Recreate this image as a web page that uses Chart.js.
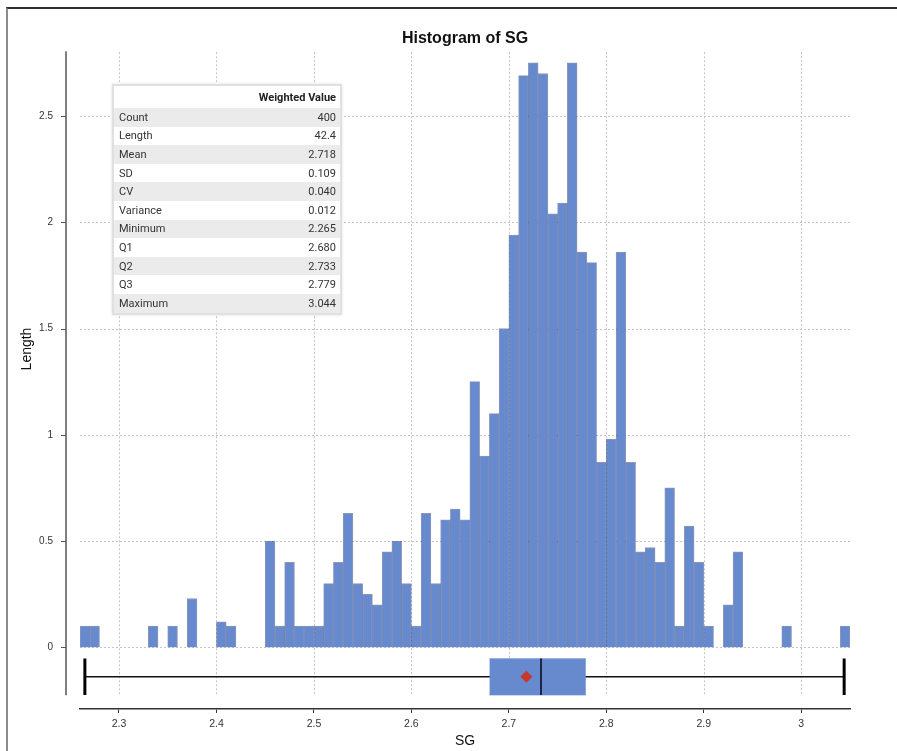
<!DOCTYPE html>
<html>
<head>
<meta charset="utf-8">
<title>Histogram of SG</title>
<script src="https://cdn.jsdelivr.net/npm/chart.js@4/dist/chart.umd.min.js"></script>
<style>
  html, body { margin: 0; padding: 0; background: #fff; }
  #wrap { position: relative; width: 897px; height: 751px; overflow: hidden; }
  #frame { position: absolute; left: 6px; top: 7px; right: -10px; bottom: -10px;
           border-top: 2px solid #2e2e2e; border-left: 2px solid #8c8c8c; }
  #chart { position: absolute; left: 0; top: 0; }
  #stats { position: absolute; left: 112px; top: 84px; width: 226px; background: #fff;
           border: 2px solid #e0e0e0; box-shadow: 0 0 3px rgba(0,0,0,0.12); }
  #stats table { width: 100%; border-collapse: collapse; font-family: Roboto, "Noto Sans", sans-serif;
                 font-size: 11px; color: #333; }
  #stats th { height: 22px; padding: 0 4px; text-align: right; font-weight: bold; color: #222; }
  #stats td { height: 18.6px; padding: 0 4px 0 5px; }
  #stats td.v { text-align: right; }
  #stats tr.shade td { background: #ebebeb; }
</style>
</head>
<body>
<div id="wrap">
  <div id="frame"></div>
  <canvas id="chart" width="897" height="751"></canvas>
  <div id="stats"><table id="statsTable"></table></div>
</div>
<script>
// histogram bins (left edge of each 0.01 wide bin) and the summed length per bin
const BIN_LEFT = [
  2.26, 2.27, 2.28, 2.29, 2.30, 2.31, 2.32, 2.33, 2.34, 2.35,
  2.36, 2.37, 2.38, 2.39, 2.40, 2.41, 2.42, 2.43, 2.44, 2.45,
  2.46, 2.47, 2.48, 2.49, 2.50, 2.51, 2.52, 2.53, 2.54, 2.55,
  2.56, 2.57, 2.58, 2.59, 2.60, 2.61, 2.62, 2.63, 2.64, 2.65,
  2.66, 2.67, 2.68, 2.69, 2.70, 2.71, 2.72, 2.73, 2.74, 2.75,
  2.76, 2.77, 2.78, 2.79, 2.80, 2.81, 2.82, 2.83, 2.84, 2.85,
  2.86, 2.87, 2.88, 2.89, 2.90, 2.91, 2.92, 2.93, 2.94, 2.95,
  2.96, 2.97, 2.98, 2.99, 3.00, 3.01, 3.02, 3.03, 3.04
];
const BIN_WIDTH = 0.01;
const LENGTHS = [
  0.1, 0.1, 0, 0, 0, 0, 0, 0.1, 0, 0.1,
  0, 0.23, 0, 0, 0.12, 0.1, 0, 0, 0, 0.5,
  0.1, 0.4, 0.1, 0.1, 0.1, 0.3, 0.4, 0.63, 0.3, 0.25,
  0.2, 0.45, 0.5, 0.3, 0.1, 0.63, 0.3, 0.6, 0.65, 0.6,
  1.25, 0.9, 1.1, 1.5, 1.94, 2.69, 2.75, 2.7, 2.04, 2.09,
  2.75, 1.86, 1.81, 0.87, 0.98, 1.86, 0.87, 0.45, 0.47, 0.4,
  0.75, 0.1, 0.57, 0.4, 0.1, 0, 0.2, 0.45, 0, 0,
  0, 0, 0.1, 0, 0, 0, 0, 0, 0.1
];

// summary table
const STAT_NAMES = ['Count', 'Length', 'Mean', 'SD', 'CV', 'Variance', 'Minimum', 'Q1', 'Q2', 'Q3', 'Maximum'];
const STAT_VALUES = ['400', '42.4', '2.718', '0.109', '0.040', '0.012', '2.265', '2.680', '2.733', '2.779', '3.044'];

const X_TICKS = [2.3, 2.4, 2.5, 2.6, 2.7, 2.8, 2.9, 3.0];
const Y_TICKS = [0, 0.5, 1, 1.5, 2, 2.5];

// layout
const X_MIN = 2.26, X_MAX = 3.05;
const Y_MIN = -0.29, Y_MAX = 2.8;
const BOX_TOP = -0.053, BOX_BOTTOM = -0.224, WHISKER_Y = -0.138;
const GRID_BOTTOM = -0.225;
const AXIS_GAP = 14;

const BLUE = 'rgb(103, 137, 205)';
const FONT = '"Liberation Sans", Arial, sans-serif';

const stat = name => parseFloat(STAT_VALUES[STAT_NAMES.indexOf(name)]);
const vmin = stat('Minimum'), q1 = stat('Q1'), med = stat('Q2'), q3 = stat('Q3'), vmax = stat('Maximum'), mean = stat('Mean');

// table
const tbl = document.getElementById('statsTable');
tbl.innerHTML = '<tr><th></th><th>Weighted Value</th></tr>' +
  STAT_NAMES.map((n, i) =>
    `<tr class="${i % 2 === 0 ? 'shade' : ''}"><td>${n}</td><td class="v">${STAT_VALUES[i]}</td></tr>`
  ).join('');

const axesPlugin = {
  id: 'axesPlugin',
  beforeDatasetsDraw(chart) {
    const { ctx, chartArea: a, scales: { x, y } } = chart;
    const gb = y.getPixelForValue(GRID_BOTTOM);
    ctx.save();
    ctx.strokeStyle = '#c4c4c4';
    ctx.lineWidth = 1;
    ctx.setLineDash([2, 2]);
    X_TICKS.forEach(v => {
      const px = Math.round(x.getPixelForValue(v)) + 0.5;
      ctx.beginPath(); ctx.moveTo(px, a.top); ctx.lineTo(px, gb); ctx.stroke();
    });
    Y_TICKS.forEach(v => {
      const py = Math.round(y.getPixelForValue(v)) + 0.5;
      ctx.beginPath(); ctx.moveTo(a.left, py); ctx.lineTo(a.right, py); ctx.stroke();
    });
    ctx.restore();
  },
  afterDraw(chart) {
    const { ctx, chartArea: a, scales: { y } } = chart;
    const ax = a.left - AXIS_GAP;
    ctx.save();
    ctx.strokeStyle = '#555';
    ctx.lineWidth = 1.5;
    ctx.beginPath(); ctx.moveTo(ax, a.top - 1); ctx.lineTo(ax, y.getPixelForValue(GRID_BOTTOM)); ctx.stroke();
    ctx.lineWidth = 1;
    Y_TICKS.forEach(v => {
      const py = Math.round(y.getPixelForValue(v)) + 0.5;
      ctx.beginPath(); ctx.moveTo(ax - 5, py); ctx.lineTo(ax, py); ctx.stroke();
    });
    // y axis title
    ctx.fillStyle = '#111';
    ctx.font = '14px ' + FONT;
    ctx.textAlign = 'center';
    ctx.textBaseline = 'middle';
    ctx.translate(27, 349);
    ctx.rotate(-Math.PI / 2);
    ctx.fillText('Length', 0, 0);
    ctx.restore();
  }
};

const line = (pts, color, width, order) => ({
  type: 'line', data: pts, borderColor: color, borderWidth: width,
  pointRadius: 0, fill: false, order: order
});

new Chart(document.getElementById('chart'), {
  type: 'bar',
  data: {
    datasets: [
      {
        label: 'Length',
        data: BIN_LEFT.map((b, i) => ({ x: b + BIN_WIDTH / 2, y: LENGTHS[i] || null })),
        backgroundColor: BLUE,
        borderColor: 'rgba(45, 65, 125, 0.55)',
        borderWidth: 1,
        barPercentage: 1,
        categoryPercentage: 1,
        order: 10
      },
      {
        type: 'line',
        data: [{ x: q1, y: BOX_TOP }, { x: q3, y: BOX_TOP }],
        borderColor: 'rgba(150, 175, 225, 1)', borderWidth: 1, pointRadius: 0,
        backgroundColor: BLUE, fill: '+1', order: 4
      },
      line([{ x: q1, y: BOX_BOTTOM }, { x: q3, y: BOX_BOTTOM }], 'rgba(150, 175, 225, 1)', 1, 4),
      line([{ x: vmin, y: WHISKER_Y }, { x: vmax, y: WHISKER_Y }], '#111', 1.5, 6),
      line([{ x: vmin, y: BOX_TOP }, { x: vmin, y: BOX_BOTTOM }], '#000', 3, 3),
      line([{ x: vmax, y: BOX_TOP }, { x: vmax, y: BOX_BOTTOM }], '#000', 3, 3),
      line([{ x: med, y: BOX_TOP }, { x: med, y: BOX_BOTTOM }], '#1d2744', 2, 2),
      {
        type: 'line', showLine: false,
        data: [{ x: mean, y: WHISKER_Y }],
        pointStyle: 'rectRot', pointRadius: 6,
        backgroundColor: '#c8372d', borderColor: '#c8372d', borderWidth: 0,
        order: 1
      }
    ]
  },
  options: {
    responsive: false,
    animation: false,
    devicePixelRatio: 1,
    layout: { padding: { left: 0, right: 47, top: 0, bottom: 0 } },
    plugins: {
      legend: { display: false },
      tooltip: { enabled: false },
      title: {
        display: true, text: 'Histogram of SG', fullSize: false, color: '#111',
        font: { family: FONT, size: 16, weight: 'bold' },
        padding: { top: 29, bottom: 4 }
      }
    },
    scales: {
      x: {
        type: 'linear', min: X_MIN, max: X_MAX, offset: false,
        afterBuildTicks: s => { s.ticks = X_TICKS.map(v => ({ value: v })); },
        afterFit: s => { s.height = 42; },
        grid: { offset: false, drawOnChartArea: false, drawTicks: true, tickLength: 4, color: '#333' },
        border: { display: true, color: '#333', width: 1.5 },
        ticks: {
          color: '#333', font: { family: FONT, size: 10.5 }, padding: 5,
          maxRotation: 0, autoSkip: false, callback: v => String(v)
        },
        title: {
          display: true, text: 'SG', color: '#111',
          font: { family: FONT, size: 14 }, padding: { top: 0, bottom: 1 }
        }
      },
      y: {
        min: Y_MIN, max: Y_MAX,
        afterBuildTicks: s => { s.ticks = Y_TICKS.map(v => ({ value: v })); },
        afterFit: s => { s.width = 80; },
        grid: { display: false, drawTicks: false },
        border: { display: false },
        ticks: { color: '#333', font: { family: FONT, size: 10 }, padding: 27, callback: v => String(v) }
      }
    }
  },
  plugins: [axesPlugin]
});
</script>
</body>
</html>
